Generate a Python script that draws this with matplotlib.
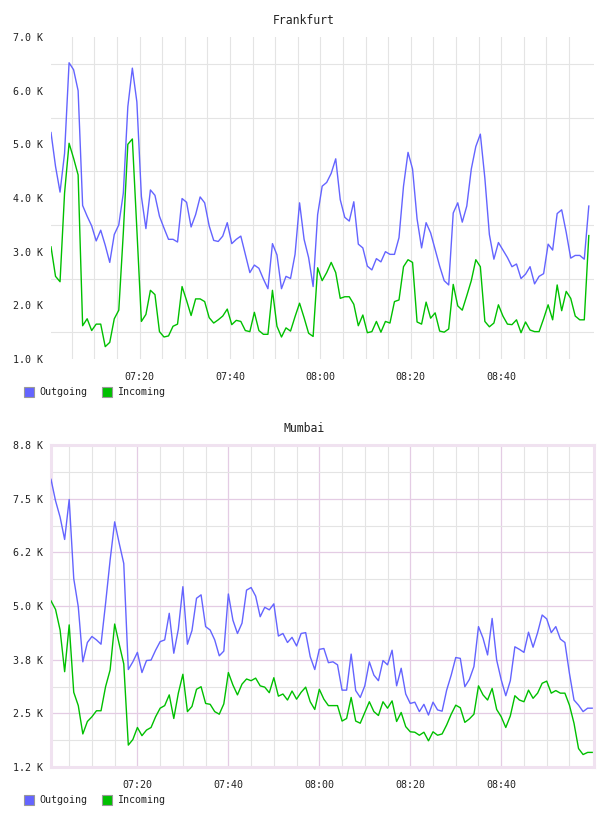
import numpy as np
import pandas as pd
import matplotlib
matplotlib.use('Agg')
import matplotlib.pyplot as plt
from matplotlib.patches import Rectangle

# traffic, in K per sample (one sample a minute)

fra_out = [5.22, 4.59, 4.11, 4.83, 6.52, 6.39, 6.0, 3.86, 3.66, 3.48, 3.2, 3.4, 3.12, 2.8, 3.32,
           3.5, 4.09, 5.7, 6.42, 5.79, 4.03, 3.43, 4.15, 4.05, 3.66, 3.44, 3.23, 3.23, 3.18, 3.99,
           3.92, 3.46, 3.69, 4.02, 3.91, 3.48, 3.21, 3.19, 3.29, 3.54, 3.15, 3.23, 3.29, 2.95, 2.61,
           2.75, 2.69, 2.49, 2.31, 3.15, 2.94, 2.31, 2.54, 2.5, 2.95, 3.91, 3.23, 2.89, 2.35, 3.69,
           4.22, 4.29, 4.46, 4.73, 3.97, 3.64, 3.57, 3.93, 3.14, 3.07, 2.73, 2.66, 2.87, 2.81, 3.0,
           2.95, 2.95, 3.26, 4.22, 4.85, 4.54, 3.61, 3.07, 3.54, 3.35, 3.04, 2.73, 2.46, 2.38, 3.72,
           3.91, 3.55, 3.85, 4.54, 4.96, 5.19, 4.37, 3.32, 2.86, 3.17, 3.03, 2.89, 2.72, 2.77, 2.5,
           2.58, 2.72, 2.4, 2.54, 2.59, 3.14, 3.03, 3.71, 3.78, 3.36, 2.88, 2.93, 2.93, 2.86, 3.85]
fra_in = [3.09, 2.54, 2.44, 4.09, 5.02, 4.74, 4.43, 1.62, 1.75, 1.53, 1.65, 1.65, 1.23, 1.31, 1.75,
          1.91, 3.35, 5.0, 5.1, 3.41, 1.70, 1.83, 2.28, 2.2, 1.51, 1.41, 1.43, 1.61, 1.65, 2.35,
          2.09, 1.81, 2.12, 2.12, 2.07, 1.77, 1.67, 1.73, 1.8, 1.93, 1.64, 1.72, 1.7, 1.53, 1.51,
          1.87, 1.53, 1.46, 1.46, 2.28, 1.61, 1.41, 1.58, 1.52, 1.79, 2.04, 1.77, 1.48, 1.42, 2.7,
          2.46, 2.61, 2.8, 2.61, 2.13, 2.16, 2.16, 2.02, 1.62, 1.82, 1.49, 1.51, 1.7, 1.5, 1.7,
          1.67, 2.07, 2.1, 2.72, 2.85, 2.8, 1.69, 1.65, 2.06, 1.76, 1.86, 1.52, 1.5, 1.56, 2.39,
          1.99, 1.91, 2.18, 2.46, 2.85, 2.72, 1.7, 1.6, 1.67, 2.01, 1.8, 1.65, 1.64, 1.73, 1.49,
          1.69, 1.54, 1.51, 1.51, 1.75, 2.01, 1.73, 2.38, 1.9, 2.26, 2.13, 1.8, 1.73, 1.73, 3.3]

mum_out = [7.95, 7.45, 7.07, 6.55, 7.48, 5.64, 4.98, 3.7, 4.15, 4.29, 4.21, 4.11, 5.06, 6.07, 6.96,
           6.46, 5.99, 3.52, 3.7, 3.92, 3.45, 3.73, 3.74, 3.97, 4.17, 4.21, 4.83, 3.9, 4.46, 5.45,
           4.11, 4.43, 5.18, 5.26, 4.52, 4.44, 4.21, 3.84, 3.95, 5.28, 4.67, 4.36, 4.6, 5.37, 5.43,
           5.23, 4.75, 4.97, 4.91, 5.05, 4.3, 4.36, 4.15, 4.27, 4.07, 4.36, 4.38, 3.82, 3.52, 3.99,
           4.01, 3.68, 3.7, 3.63, 3.04, 3.04, 3.88, 3.03, 2.87, 3.14, 3.7, 3.39, 3.26, 3.73, 3.63,
           3.97, 3.14, 3.55, 2.95, 2.73, 2.76, 2.54, 2.71, 2.46, 2.76, 2.58, 2.55, 3.04, 3.39, 3.8,
           3.78, 3.12, 3.29, 3.59, 4.52, 4.25, 3.86, 4.71, 3.74, 3.28, 2.91, 3.26, 4.05, 3.99, 3.92,
           4.39, 4.04, 4.38, 4.79, 4.7, 4.38, 4.52, 4.23, 4.15, 3.43, 2.81, 2.69, 2.54, 2.62, 2.62]
mum_in = [5.12, 4.92, 4.44, 3.47, 4.56, 2.99, 2.68, 2.02, 2.31, 2.42, 2.56, 2.56, 3.12, 3.51, 4.58,
          4.11, 3.65, 1.76, 1.89, 2.17, 1.98, 2.11, 2.17, 2.42, 2.62, 2.68, 2.93, 2.38, 2.97, 3.41,
          2.54, 2.66, 3.06, 3.12, 2.73, 2.71, 2.54, 2.48, 2.72, 3.45, 3.16, 2.93, 3.18, 3.3, 3.26,
          3.32, 3.14, 3.11, 2.98, 3.33, 2.9, 2.95, 2.81, 3.02, 2.83, 2.99, 3.11, 2.77, 2.59, 3.06,
          2.83, 2.68, 2.68, 2.68, 2.32, 2.38, 2.87, 2.32, 2.27, 2.52, 2.77, 2.54, 2.45, 2.77, 2.62,
          2.79, 2.31, 2.52, 2.19, 2.07, 2.06, 1.99, 2.06, 1.86, 2.07, 1.99, 2.02, 2.23, 2.48, 2.69,
          2.63, 2.29, 2.37, 2.48, 3.14, 2.93, 2.81, 3.08, 2.59, 2.42, 2.17, 2.44, 2.91, 2.81, 2.77,
          3.04, 2.85, 2.97, 3.2, 3.25, 2.97, 3.03, 2.97, 2.97, 2.69, 2.27, 1.68, 1.54, 1.59, 1.59]

fra_times = pd.date_range('2020-01-01 07:00:24', periods=len(fra_out), freq='1min')
mum_times = pd.date_range('2020-01-01 07:01:00', periods=len(mum_out), freq='1min')
fra_span = ('2020-01-01 07:00:24', '2020-01-01 09:00:33')
mum_span = ('2020-01-01 07:01:00', '2020-01-01 09:00:24')

# labelled times, and the 5 minute grid between them
x_labels = ['07:20', '07:40', '08:00', '08:20', '08:40']
x_grid = pd.date_range('2020-01-01 07:05', '2020-01-01 08:55', freq='5min')

fra_yticks = [1, 2, 3, 4, 5, 6, 7]
fra_ylabels = ['1.0 K', '2.0 K', '3.0 K', '4.0 K', '5.0 K', '6.0 K', '7.0 K']
mum_yticks = [1.25, 2.5, 3.75, 5.0, 6.25, 7.5, 8.75]
mum_ylabels = ['1.2 K', '2.5 K', '3.8 K', '5.0 K', '6.2 K', '7.5 K', '8.8 K']

#---------------------
# styles
#---------------------
BLUE = '#6464ff'
GREEN = '#00c000'
GREY = '#e4e4e4'
PURPLE = '#e4cce4'
BORDER = '#f0e2f0'
MONO = 'DejaVu Sans Mono'

fig = plt.figure(figsize=(6.08, 8.16), dpi=100)
W, H = 608, 816


def draw_panel(ax, title, title_y, times, out, inc, span, yticks, ylabels, legend_y, framed):
    ax.plot(times, out, color=BLUE, lw=1.0, zorder=3)
    ax.plot(times, inc, color=GREEN, lw=1.0, zorder=3)
    ax.set_xlim(pd.Timestamp(span[0]), pd.Timestamp(span[1]))
    ax.set_ylim(yticks[0], yticks[-1])

    ax.set_xticks([pd.Timestamp('2020-01-01 ' + t) for t in x_labels])
    ax.set_xticklabels(x_labels)
    ax.set_xticks(list(x_grid), minor=True)
    ax.set_yticks(yticks)
    ax.set_yticklabels(ylabels)
    mids = [(a + b) / 2 for a, b in zip(yticks[:-1], yticks[1:])]
    ax.set_yticks(mids, minor=True)

    ax.tick_params(which='both', length=0)
    ax.tick_params(axis='y', pad=6, labelsize=7.2, labelcolor='#222222')
    ax.tick_params(axis='x', pad=9, labelsize=7.2, labelcolor='#222222')
    for lab in ax.get_xticklabels() + ax.get_yticklabels():
        lab.set_fontfamily(MONO)

    ax.set_axisbelow(True)
    if framed:
        ax.grid(True, which='minor', color=GREY, lw=0.8)
        ax.grid(True, which='major', color=PURPLE, lw=0.9)
        for s in ax.spines.values():
            s.set_color(BORDER)
            s.set_linewidth(2.2)
    else:
        ax.grid(True, which='minor', color=GREY, lw=0.8)
        ax.grid(True, which='major', axis='x', color=GREY, lw=0.8)
        for s in ax.spines.values():
            s.set_visible(False)

    fig.text(304 / W, 1 - title_y / H, title, ha='center', va='center',
             fontsize=8.3, family=MONO, color='#222222')

    # legend squares
    for x0, col, name in [(24, BLUE, 'Outgoing'), (102, GREEN, 'Incoming')]:
        fig.patches.append(Rectangle((x0 / W, 1 - (legend_y + 5) / H), 10 / W, 10 / H,
                                     transform=fig.transFigure, facecolor=col,
                                     edgecolor='#999999', lw=0.8))
        fig.text((x0 + 15) / W, 1 - legend_y / H, name, ha='left', va='center',
                 fontsize=7.2, family=MONO, color='#222222')


ax1 = fig.add_axes([51 / W, 1 - 359 / H, 543 / W, 322 / H])
draw_panel(ax1, 'Frankfurt', 20, fra_times, fra_out, fra_in, fra_span,
           fra_yticks, fra_ylabels, 392, framed=False)

ax2 = fig.add_axes([51 / W, 1 - 767 / H, 543 / W, 322 / H])
draw_panel(ax2, 'Mumbai', 429, mum_times, mum_out, mum_in, mum_span,
           mum_yticks, mum_ylabels, 800, framed=True)

fig.savefig('out.png', dpi=100)
